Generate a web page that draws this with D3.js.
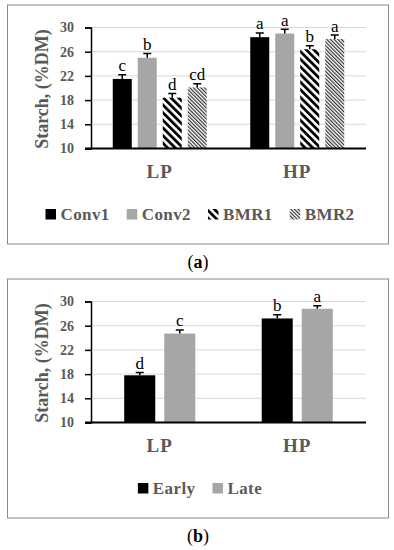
<!DOCTYPE html>
<html>
<head>
<meta charset="utf-8">
<script src="https://cdn.jsdelivr.net/npm/d3@7"></script>
<style>
  body { margin: 0; background: #fff; }
  svg text { font-family: "Liberation Serif", "DejaVu Serif", serif; }
</style>
</head>
<body>
<svg id="chart" width="394" height="550"></svg>
<script>
// categories on the x axis
const categories = ["LP", "HP"];
const yTicks = [10, 14, 18, 22, 26, 30];

// panel (a)
const seriesA = ["Conv1", "Conv2", "BMR1", "BMR2"];
const valuesA = [[21.5, 25.0, 18.4, 20.1], [28.4, 29.0, 26.4, 28.1]];
const errorsA = [[0.7, 0.7, 0.7, 0.6], [0.7, 0.7, 0.6, 0.65]];
const lettersA = [["c", "b", "d", "cd"], ["a", "a", "b", "a"]];

// panel (b)
const seriesB = ["Early", "Late"];
const valuesB = [[17.8, 24.7], [27.2, 28.8]];
const errorsB = [[0.45, 0.6], [0.6, 0.5]];
const lettersB = [["d", "c"], ["b", "a"]];

const svg = d3.select("#chart");
const textColor = "#595959";

// hatch patterns for the BMR bars
const defs = svg.append("defs");
defs.append("pattern")
    .attr("id", "bmr1")
    .attr("patternUnits", "userSpaceOnUse")
    .attr("width", 5.4).attr("height", 10)
    .attr("patternTransform", "rotate(-45)")
    .call(p => {
        p.append("rect").attr("width", 5.4).attr("height", 10).attr("fill", "#fff");
        p.append("rect").attr("width", 2.8).attr("height", 10).attr("fill", "#000");
    });
defs.append("pattern")
    .attr("id", "bmr2")
    .attr("patternUnits", "userSpaceOnUse")
    .attr("width", 2.6).attr("height", 10)
    .attr("patternTransform", "rotate(-45)")
    .call(p => {
        p.append("rect").attr("width", 2.6).attr("height", 10).attr("fill", "#fff");
        p.append("rect").attr("width", 1.2).attr("height", 10).attr("fill", "#333");
    });

const fills = {
    Conv1: "#000", Conv2: "#a6a6a6", BMR1: "url(#bmr1)", BMR2: "url(#bmr2)",
    Early: "#000", Late: "#a6a6a6"
};

function drawPanel(top, series, values, errors, letters, inner, outer, caption) {
    const g = svg.append("g").attr("transform", `translate(0,${top})`);

    g.append("rect")
        .attr("x", 7.5).attr("y", 0.5)
        .attr("width", 381).attr("height", 239)
        .attr("fill", "#fff")
        .attr("stroke", "#8a8a8a");

    const y = d3.scaleLinear().domain([10, 30]).range([144, 23]);
    const x0 = d3.scaleBand().domain(categories).range([91, 366]);
    const x1 = d3.scaleBand().domain(series).range([0, x0.bandwidth()])
        .paddingInner(inner).paddingOuter(outer);

    // gridlines
    g.append("g").selectAll("line")
        .data(yTicks.slice(1))
        .enter().append("line")
        .attr("x1", 91).attr("x2", 366)
        .attr("y1", d => y(d)).attr("y2", d => y(d))
        .attr("stroke", "#d9d9d9").attr("stroke-width", 1);

    // y axis
    const yAxis = g.append("g")
        .attr("transform", "translate(91,0)")
        .call(d3.axisLeft(y).tickValues(yTicks).tickSize(6).tickPadding(11));
    yAxis.select(".domain").attr("stroke", "#000").attr("stroke-width", 1.5);
    yAxis.selectAll(".tick line").attr("stroke", "#000").attr("stroke-width", 1.5);
    yAxis.selectAll(".tick text")
        .attr("fill", textColor)
        .style("font-size", "14px")
        .style("font-weight", "bold")
        .style("font-family", "'Liberation Serif', serif");

    g.append("text")
        .attr("transform", `translate(48,${(y(10) + y(30)) / 2 + 1}) rotate(-90)`)
        .attr("text-anchor", "middle")
        .attr("fill", textColor)
        .style("font-size", "18px")
        .style("font-weight", "bold")
        .text("Starch, (%DM)");

    // bars
    const groups = g.selectAll(".cat")
        .data(categories)
        .enter().append("g")
        .attr("transform", d => `translate(${x0(d)},0)`);

    groups.each(function (cat, ci) {
        const rows = series.map((s, si) => ({
            s: s, v: values[ci][si], e: errors[ci][si], l: letters[ci][si]
        }));
        const gg = d3.select(this);
        gg.selectAll("rect")
            .data(rows)
            .enter().append("rect")
            .attr("x", d => x1(d.s))
            .attr("width", x1.bandwidth())
            .attr("y", d => y(d.v))
            .attr("height", d => y(10) - y(d.v))
            .attr("fill", d => fills[d.s]);

        // error bars (upper only)
        gg.selectAll(".err")
            .data(rows)
            .enter().append("path")
            .attr("d", d => {
                const cx = x1(d.s) + x1.bandwidth() / 2;
                return `M${cx},${y(d.v)}V${y(d.v + d.e)}M${cx - 4},${y(d.v + d.e)}H${cx + 4}`;
            })
            .attr("stroke", "#000").attr("stroke-width", 1.5).attr("fill", "none");

        gg.selectAll(".lbl")
            .data(rows)
            .enter().append("text")
            .attr("x", d => x1(d.s) + x1.bandwidth() / 2)
            .attr("y", d => y(d.v + d.e) - 3.5)
            .attr("text-anchor", "middle")
            .attr("fill", "#000")
            .style("font-size", "17px")
            .text(d => d.l);
    });

    // x axis line
    g.append("line")
        .attr("x1", 85).attr("x2", 366)
        .attr("y1", y(10)).attr("y2", y(10))
        .attr("stroke", "#000").attr("stroke-width", 1.8);

    g.selectAll(".catlabel")
        .data(categories)
        .enter().append("text")
        .attr("x", d => x0(d) + x0.bandwidth() / 2)
        .attr("y", 173.5)
        .attr("text-anchor", "middle")
        .attr("fill", textColor)
        .style("font-size", "19px")
        .style("font-weight", "bold")
        .style("letter-spacing", "1px")
        .text(d => d);

    // legend, centred under the plot
    const legend = g.append("g");
    const items = legend.selectAll("g")
        .data(series)
        .enter().append("g");
    items.append("rect")
        .attr("width", 10.5).attr("height", 10.5)
        .attr("y", -11)
        .attr("fill", d => fills[d]);
    items.append("text")
        .attr("x", 15)
        .attr("fill", textColor)
        .style("font-size", "17px")
        .style("font-weight", "bold")
        .style("letter-spacing", "0.4px")
        .text(d => d);
    let pos = 0;
    items.each(function () {
        d3.select(this).attr("transform", `translate(${pos},0)`);
        pos += 15 + d3.select(this).select("text").node().getComputedTextLength() + 17;
    });
    const total = pos - 17;
    legend.attr("transform", `translate(${200 - total / 2},215.5)`);

    // caption below the box
    const cap = g.append("text")
        .attr("x", 198).attr("y", 263)
        .attr("text-anchor", "middle")
        .attr("fill", "#000")
        .style("font-size", "18px");
    cap.append("tspan").text("(");
    cap.append("tspan").style("font-weight", "bold").text(caption);
    cap.append("tspan").text(")");
}

drawPanel(4.5, seriesA, valuesA, errorsA, lettersA, 0.24, 0.87, "a");
drawPanel(278.5, seriesB, valuesB, errorsB, lettersB, 0.225, 0.83, "b");
</script>
</body>
</html>
